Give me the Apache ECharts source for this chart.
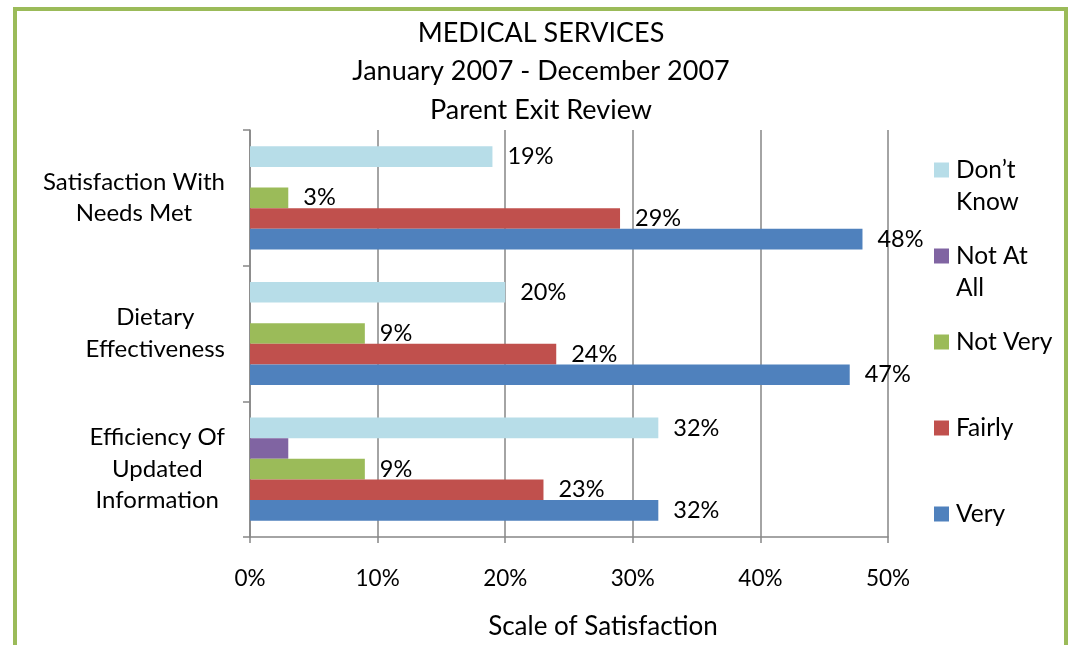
<!DOCTYPE html>
<html>
<head>
<meta charset="utf-8">
<script src="https://cdn.jsdelivr.net/npm/echarts@6/dist/echarts.min.js"></script>
<style>
html,body{margin:0;padding:0;background:#fff;}
#c{width:1071px;height:645px;}
</style>
</head>
<body>
<div id="c"></div>
<script>
// ---- data ----
const categories = ['Efficiency Of\nUpdated\nInformation', 'Dietary\nEffectiveness', 'Satisfaction With\nNeeds Met'];
const seriesNames = ['Don\u2019t Know', 'Not At All', 'Not Very', 'Fairly', 'Very'];
const dontKnow = [32, 20, 19];
const notAtAll = [3, 0, 0];
const notVery = [9, 9, 3];
const fairly = [23, 24, 29];
const very = [32, 47, 48];
const xTicks = [0, 10, 20, 30, 40, 50];
const titleLines = ['MEDICAL SERVICES', 'January 2007 - December 2007', 'Parent Exit Review'];
const xAxisTitle = 'Scale of Satisfaction';
const legendLabels = {
  'Don\u2019t Know': '\nDon\u2019t\nKnow',
  'Not At All': '\nNot At\nAll',
  'Not Very': '\nNot Very\n',
  'Fairly': '\nFairly\n',
  'Very': '\nVery\n'
};

const colors = ['#b7dde8', '#8064a2', '#9bbb59', '#c0504d', '#4f81bd'];
const values = [dontKnow, notAtAll, notVery, fairly, very];
const FONT = 'Lato';

const chart = echarts.init(document.getElementById('c'));
const series = seriesNames.map((name, i) => ({
  name: name,
  type: 'bar',
  z: 2 + i,
  data: values[i],
  barGap: '0%',
  barCategoryGap: '24%',
  itemStyle: { color: colors[i] },
  label: {
    show: name !== 'Not At All',
    position: 'right',
    distance: 15,
    formatter: '{c}%',
    color: '#000',
    fontFamily: FONT,
    fontSize: 23.5
  },
  emphasis: { disabled: true }
}));

chart.setOption({
  backgroundColor: '#fff',
  animation: false,
  textStyle: { fontFamily: FONT },
  title: {
    text: titleLines.join('\n'),
    left: 541,
    textAlign: 'center',
    top: 14,
    padding: 0,
    textStyle: { fontFamily: FONT, fontSize: 27, fontWeight: 'normal', color: '#000', lineHeight: 38.5 }
  },
  legend: {
    orient: 'vertical',
    left: 934,
    top: 170 - 48,
    padding: 0,
    itemWidth: 15,
    itemHeight: 15,
    itemGap: -10,
    icon: 'rect',
    data: seriesNames,
    formatter: n => legendLabels[n],
    textStyle: { fontFamily: FONT, fontSize: 24.5, color: '#000', lineHeight: 32, padding: [0, 0, 0, 2] },
    selectedMode: false
  },
  grid: { left: 250, right: 183, top: 130, bottom: 105, containLabel: false },
  xAxis: {
    type: 'value',
    min: xTicks[0],
    max: xTicks[xTicks.length - 1],
    interval: xTicks[1] - xTicks[0],
    name: xAxisTitle,
    nameLocation: 'middle',
    nameGap: 77,
    nameTextStyle: { fontFamily: FONT, fontSize: 26, color: '#000', padding: [0, 0, 0, 68] },
    axisLine: { show: true, lineStyle: { color: '#868686', width: 1.5 } },
    axisTick: { show: true, length: 6, lineStyle: { color: '#868686', width: 1.5 } },
    axisLabel: { formatter: '{value}%', margin: 30, fontFamily: FONT, fontSize: 22.5, color: '#000' },
    splitLine: { show: true, lineStyle: { color: '#868686', width: 1.5 } }
  },
  yAxis: {
    type: 'category',
    data: categories,
    axisLine: { show: true, lineStyle: { color: '#868686', width: 1.5 } },
    axisTick: { show: true, length: 7, lineStyle: { color: '#868686', width: 1.5 } },
    axisLabel: {
      margin: 25,
      formatter: v => v.split('\n').map(s => '{c|' + s + '}').join('\n'),
      rich: { c: { align: 'center', fontFamily: FONT, fontSize: 24, lineHeight: 31.5, color: '#000' } }
    }
  },
  series: series,
  graphic: [{
    type: 'rect',
    shape: { x: 15, y: 9, width: 1051, height: 660 },
    style: { fill: 'none', stroke: '#9bbb59', lineWidth: 4 },
    silent: true,
    z: 100
  }]
});
</script>
</body>
</html>
